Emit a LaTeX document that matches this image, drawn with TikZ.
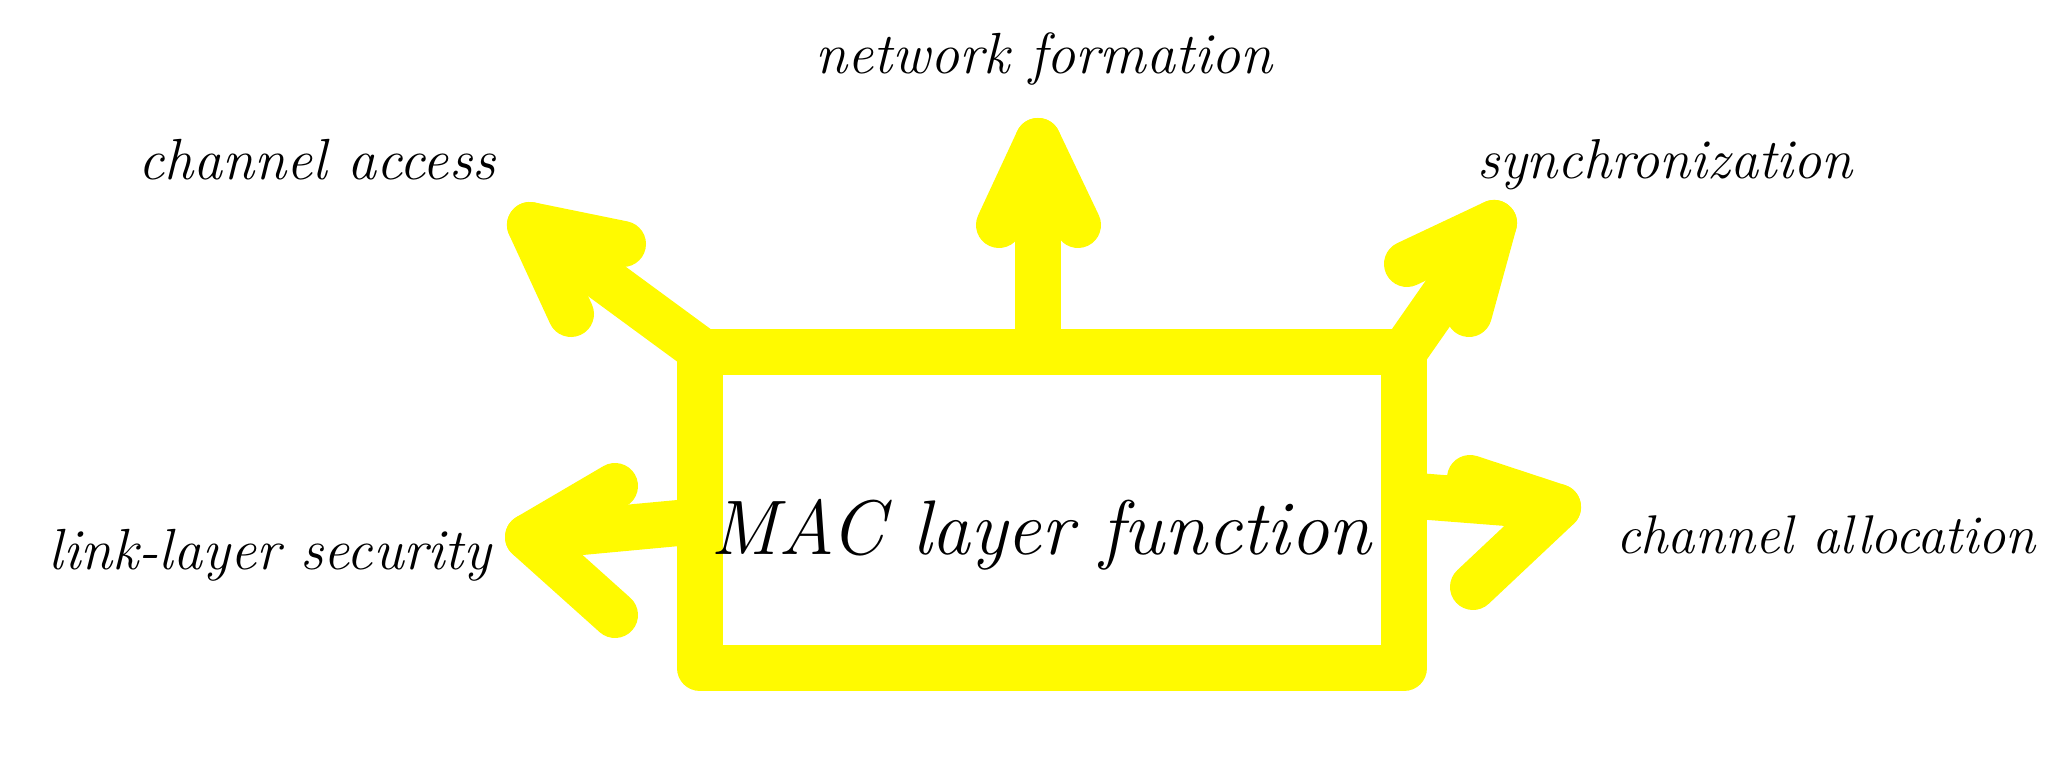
\documentclass[tikz,border=0pt]{standalone}
\usepackage{tikz}
\definecolor{yel}{RGB}{255,250,0}
\tikzset{
  ybar/.style={draw=yel, line width=0.46cm, line cap=round, line join=round},
  hand/.style={font=\itshape\fontsize{16.5}{20}\selectfont, inner sep=0pt},
  handbig/.style={font=\itshape\fontsize{22}{26}\selectfont, inner sep=0pt}
}
\begin{document}
\begin{tikzpicture}[x=0.01cm,y=-0.01cm]
\useasboundingbox (0,0) rectangle (2053,758);
% box
\node[ybar, minimum width=7.04cm, minimum height=3.16cm, inner sep=0pt] (box) at (1052,510) {};
\node[handbig] (mac) at (1041,535) {MAC layer function};
% coordinates
\coordinate (upS) at (1038,352);
\coordinate (upT) at (1038,141);
\coordinate (upA) at (999,225);
\coordinate (upB) at (1078,225);
\coordinate (ulS) at (703,352);
\coordinate (ulT) at (530,225);
\coordinate (ulA) at (623,244);
\coordinate (ulB) at (571,314);
\coordinate (urS) at (1404,352);
\coordinate (urT) at (1494,223);
\coordinate (urA) at (1407,264);
\coordinate (urB) at (1469,314);
\coordinate (lS) at (700,521);
\coordinate (lT) at (528,537);
\coordinate (lA) at (615,486);
\coordinate (lB) at (615,615);
\coordinate (rS) at (1404,495);
\coordinate (rT) at (1558,507);
\coordinate (rA) at (1470,478);
\coordinate (rB) at (1473,587);
% arrows
\draw[ybar] (upS) -- (upT);
\draw[ybar] (upA) -- (upT) -- (upB);
\draw[ybar] (ulS) -- (ulT);
\draw[ybar] (ulA) -- (ulT) -- (ulB);
\draw[ybar] (urS) -- (urT);
\draw[ybar] (urA) -- (urT) -- (urB);
\draw[ybar] (lS) -- (lT);
\draw[ybar] (lA) -- (lT) -- (lB);
\draw[ybar] (rS) -- (rT);
\draw[ybar] (rA) -- (rT) -- (rB);
% labels
\node[hand] (nf) at (1044,59) {network formation};
\node[hand] (ca) at (317,160) {channel access};
\node[hand, font=\itshape\fontsize{16}{20}\selectfont] (sy) at (1665,165) {synchronization};
\node[hand] (ls) at (270,555) {link-layer security};
\node[hand, font=\itshape\fontsize{15.5}{20}\selectfont] (cl) at (1826,535) {channel allocation};
\end{tikzpicture}
\end{document}
